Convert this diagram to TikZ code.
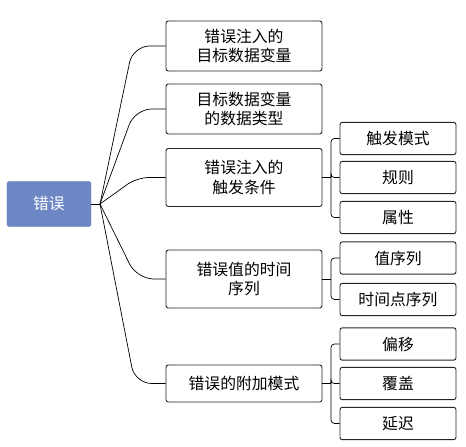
\documentclass[tikz,border=0pt]{standalone}
\usepackage{fontspec}
\setmainfont{Noto Sans CJK SC}
\definecolor{rootblue}{RGB}{108,135,196}
\begin{document}
\begin{tikzpicture}[x=0.03cm, y=-0.03cm,
    every node/.style={font=\fontsize{13.5}{16.5}\selectfont, align=center, inner sep=0pt},
    rootbox/.style={fill=rootblue, draw=rootblue, rounded corners=2pt, text=white,
        minimum width=2.52cm, minimum height=1.35cm},
    topic/.style={draw=black!85, line width=0.8pt, rounded corners=2pt, minimum width=4.68cm},
    leaf/.style={draw=black!85, line width=0.8pt, rounded corners=2pt,
        minimum width=3.48cm, minimum height=0.97cm},
    branch/.style={line width=0.6pt, rounded corners=0.5cm},
    bracket/.style={line width=0.6pt, rounded corners=3pt}]
    \useasboundingbox (0,0) rectangle (466,447);

    % Root
    \node[rootbox] (root) at (49,204) {错误};
    \coordinate (j) at (100,204);

    % First level
    \node[topic, minimum height=1.5cm] (t1) at (244,46) {错误注入的\\目标数据变量};
    \node[topic, minimum height=1.5cm] (t2) at (244,109) {目标数据变量\\的数据类型};
    \node[topic, minimum height=1.74cm] (t3) at (244,177.5) {错误注入的\\触发条件};
    \node[topic, minimum height=1.74cm] (t4) at (244,279) {错误值的时间\\序列};
    \node[topic, minimum height=1.11cm] (t5) at (244,383.5) {错误的附加模式};

    % Second level
    \node[leaf] (s1) at (398,138.5) {触发模式};
    \node[leaf] (s2) at (398,177.5) {规则};
    \node[leaf] (s3) at (398,217.5) {属性};
    \node[leaf] (s4) at (398,258) {值序列};
    \node[leaf] (s5) at (398,299.5) {时间点序列};
    \node[leaf] (s6) at (398,344) {偏移};
    \node[leaf] (s7) at (398,383.5) {覆盖};
    \node[leaf] (s8) at (398,423.5) {延迟};

    % Branches from the root
    \draw[line width=0.6pt] (root.east) -- (j);
    \draw[branch] (j) -- (133,46) -- (t1.west);
    \draw[branch] (j) -- (135,109) -- (t2.west);
    \draw[branch, rounded corners=0.35cm] (j) -- (137,177.5) -- (t3.west);
    \draw[branch] (j) -- (137,279) -- (t4.west);
    \draw[branch] (j) -- (135,383.5) -- (t5.west);

    % Brackets to the leaves
    \coordinate (b3) at (331,177.5);
    \coordinate (b4) at (331,279);
    \coordinate (b5) at (331,383.5);
    \draw[line width=0.6pt] (t3.east) -- (b3);
    \draw[line width=0.6pt] (t4.east) -- (b4);
    \draw[line width=0.6pt] (t5.east) -- (b5);
    \foreach \c in {s1,s2,s3} \draw[bracket] (\c.west) -| (b3);
    \foreach \c in {s4,s5} \draw[bracket] (\c.west) -| (b4);
    \foreach \c in {s6,s7,s8} \draw[bracket] (\c.west) -| (b5);
\end{tikzpicture}
\end{document}
